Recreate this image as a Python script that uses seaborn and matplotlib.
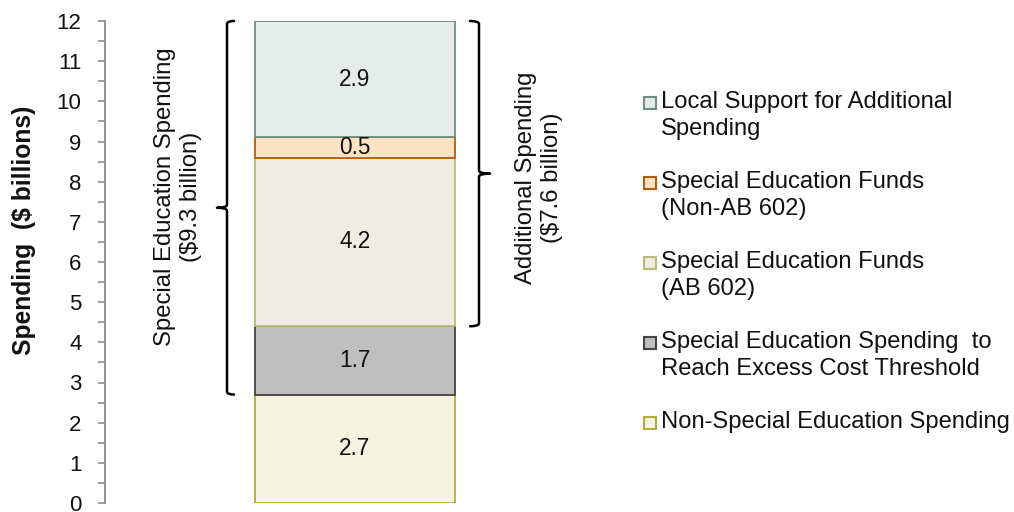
import matplotlib
matplotlib.use("Agg")
import matplotlib.pyplot as plt
import seaborn as sns
import pandas as pd
from matplotlib.path import Path
from matplotlib.patches import PathPatch, Rectangle

# ---- data ----
categories = [
    "Non-Special Education Spending",
    "Special Education Spending  to\nReach Excess Cost Threshold",
    "Special Education Funds\n(AB 602)",
    "Special Education Funds\n(Non-AB 602)",
    "Local Support for Additional\nSpending",
]
values = [2.7, 1.7, 4.2, 0.5, 2.9]
value_labels = ["2.7", "1.7", "4.2", "0.5", "2.9"]
face_colors = ["#F5F4E1", "#BFBFBF", "#EFEDE1", "#FDE2C4", "#E6ECE9"]
edge_colors = ["#B3AE3A", "#454545", "#BDB97C", "#B55A0A", "#6F8F7F"]
y_ticks = list(range(0, 13))
left_brace_text = "Special Education Spending\n($9.3 billion)"
right_brace_text = "Additional Spending\n($7.6 billion)"
y_label = "Spending  ($ billions)"

sns.set_theme(style="white")
plt.rcParams["font.family"] = ["Liberation Sans", "DejaVu Sans"]

W, H = 1014, 512
fig = plt.figure(figsize=(W / 100, H / 100), dpi=100)
ax_l, ax_r, ax_t, ax_b = 105, 605, 21, 503
ax = fig.add_axes([ax_l / W, (H - ax_b) / H, (ax_r - ax_l) / W, (ax_b - ax_t) / H])

df = pd.DataFrame({"x": ["total"] * len(values), "value": values, "cat": categories})
bottoms = [sum(values[:i]) for i in range(len(values))]
for i, row in df.iterrows():
    sns.barplot(data=df.iloc[[i]], x="x", y="value", bottom=bottoms[i], width=1.0,
                color=face_colors[i], edgecolor=edge_colors[i], linewidth=1.3,
                saturation=1, ax=ax, zorder=2)
    ax.text(0, bottoms[i] + values[i] / 2, value_labels[i], ha="center", va="center",
            fontsize=16.3, color="#111111", zorder=3)

ax.set_xlim(-1.25, 1.25)
ax.set_ylim(0, 12)
ax.set_yticks(y_ticks)
ax.set_yticks([t + 0.5 for t in y_ticks[:-1]], minor=True)
ax.tick_params(axis="y", which="both", direction="out", length=5, width=1.2,
               color="#8C8C8C", left=True, labelsize=16, pad=12, labelcolor="#111111")
ax.set_xticks([])
ax.set_xlabel("")
for s in ["top", "right", "bottom"]:
    ax.spines[s].set_visible(False)
ax.spines["left"].set_color("#8C8C8C")
ax.spines["left"].set_linewidth(1.3)
ax.set_ylabel(y_label, fontsize=17.7, fontweight="bold", color="#111111")
ax.yaxis.set_label_coords((36 - ax_l) / (ax_r - ax_l), (ax_b - 230) / (ax_b - ax_t))


def brace(ax, x0, y0, y1, hook, notch, r):
    ym = (y0 + y1) / 2
    verts = [
        (x0 + hook, y1), (x0, y1), (x0, y1 - r),
        (x0, ym + r), (x0, ym), (x0 + notch, ym),
        (x0, ym), (x0, ym - r),
        (x0, y0 + r), (x0, y0), (x0 + hook, y0),
    ]
    codes = [Path.MOVETO, Path.CURVE3, Path.CURVE3,
             Path.LINETO, Path.CURVE3, Path.CURVE3,
             Path.CURVE3, Path.CURVE3,
             Path.LINETO, Path.CURVE3, Path.CURVE3]
    ax.add_patch(PathPatch(Path(verts, codes), fill=False, lw=1.8, color="black",
                           clip_on=False, capstyle="round", joinstyle="round"))


px = 1 / 200  # x data units per pixel
py = 12 / (ax_b - ax_t)
total = sum(values)
brace(ax, (227 - 355) * px, values[0], total, 7 * px, -10 * px, 3 * py)
brace(ax, (479 - 355) * px, values[0] + values[1], total, -9 * px, 11 * px, 3 * py)

ax.text((178 - 355) * px, (ax_b - 197) * py, left_brace_text, rotation=90,
        ha="center", va="center", multialignment="center", fontsize=17.2, color="#111111")
ax.text((539 - 355) * px, (ax_b - 178) * py, right_brace_text, rotation=90,
        ha="center", va="center", multialignment="center", fontsize=17.2, color="#111111")

# ---- legend (handles aligned with first line of each entry) ----
first_line_y = [423, 343, 263, 183, 103]
for i in range(len(categories)):
    yc = first_line_y[i]
    fig.patches.append(Rectangle((644 / W, (H - yc - 6) / H), 12 / W, 12 / H,
                                 transform=fig.transFigure, facecolor=face_colors[i],
                                 edgecolor=edge_colors[i], linewidth=1.5))
    fig.text(661 / W, (H - yc + 12) / H, categories[i], ha="left", va="top",
             fontsize=17.1, color="#111111", linespacing=1.28,
             transform=fig.transFigure)

fig.savefig("out.png", dpi=100)
